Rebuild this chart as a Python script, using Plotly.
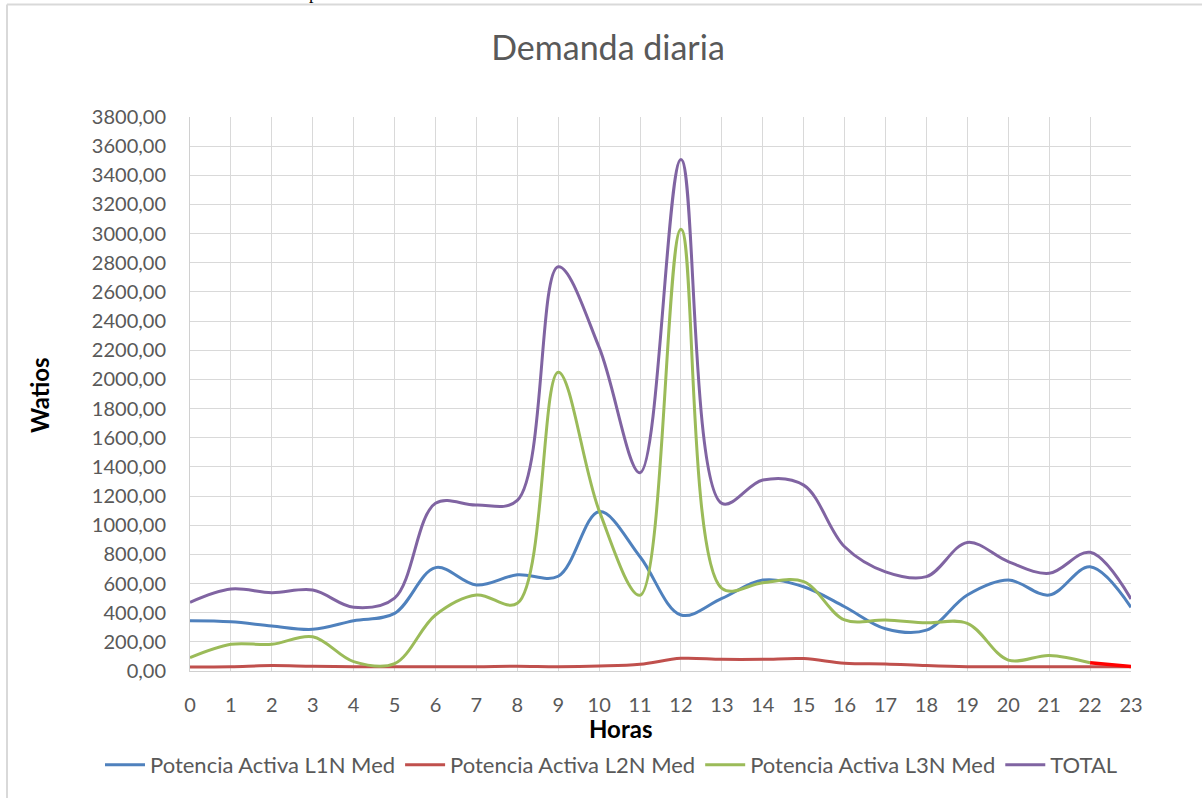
import plotly.graph_objects as go

hours = list(range(24))
l1n = [345, 338, 309, 286, 345, 395, 709, 590, 660, 650, 1093, 784, 384, 498, 624, 578, 441, 290, 280, 521, 624, 521, 715, 437]
l2n = [27, 30, 37, 32, 30, 30, 30, 30, 33, 30, 34, 46, 87, 80, 80, 85, 53, 48, 37, 30, 30, 30, 30, 30]
l3n = [91, 183, 183, 235, 64, 50, 384, 521, 464, 2050, 1100, 520, 3030, 567, 606, 613, 350, 350, 331, 327, 75, 107, 57, 30]
total = [471, 562, 537, 555, 437, 500, 1150, 1138, 1170, 2773, 2220, 1360, 3508, 1150, 1310, 1275, 852, 680, 647, 882, 750, 670, 814, 494]

names = ["Potencia Activa L1N Med", "Potencia Activa L2N Med", "Potencia Activa L3N Med", "TOTAL"]
colors = ["#4F81BD", "#C0504D", "#9BBB59", "#8064A2"]
ytick_vals = list(range(0, 3801, 200))

FONT = "Lato"
GREY = "#595959"

fig = go.Figure()
fig.add_trace(go.Scatter(x=hours, y=l1n, name=names[0], mode="lines",
                         line=dict(color=colors[0], width=3, shape="spline", smoothing=1)))
fig.add_trace(go.Scatter(x=hours, y=l2n, name=names[1], mode="lines",
                         line=dict(color=colors[1], width=3, shape="spline", smoothing=1)))
fig.add_trace(go.Scatter(x=hours[:23], y=l3n[:23], name=names[2], mode="lines",
                         line=dict(color=colors[2], width=3, shape="spline", smoothing=1)))
fig.add_trace(go.Scatter(x=hours[22:], y=l3n[22:], name=names[2], mode="lines", showlegend=False,
                         line=dict(color="#FF0000", width=3.5)))
fig.add_trace(go.Scatter(x=hours, y=total, name=names[3], mode="lines",
                         line=dict(color=colors[3], width=3, shape="spline", smoothing=1)))

# plot area geometry (pixels)
L, R, T, B = 190, 1131, 117, 671
W, H = R - L, B - T

def px(x):
    return (x - L) / W

def py(y):
    return (B - y) / H

fig.update_layout(
    width=1202, height=798, autosize=False,
    margin=dict(l=L, r=1202 - R, t=T, b=798 - B),
    paper_bgcolor="white", plot_bgcolor="white",
    separators=",.",
    font=dict(family=FONT, color=GREY, size=20),
    title=dict(text="Demanda diaria", x=px(608), xref="paper", xanchor="center",
               y=1 - 48 / 798, yanchor="middle", font=dict(size=34, color=GREY, family=FONT)),
    xaxis=dict(range=[0, 23], tickvals=hours, showgrid=True, gridcolor="#d9d9d9", gridwidth=1,
               showline=True, linecolor="#d0d0d0", linewidth=1, zeroline=False,
               ticks="", ticklabelstandoff=16, tickfont=dict(size=20, color=GREY)),
    yaxis=dict(range=[0, 3800], tickvals=ytick_vals, tickformat=".2f", showgrid=True,
               gridcolor="#d9d9d9", gridwidth=1, showline=True, linecolor="#d0d0d0", linewidth=1,
               zeroline=False, ticks="", ticklabelstandoff=19, tickfont=dict(size=20, color=GREY)),
    legend=dict(orientation="h", x=px(100), xanchor="left", y=py(765), yanchor="middle",
                font=dict(size=22, color=GREY, family=FONT), bgcolor="rgba(0,0,0,0)",
                traceorder="normal", itemwidth=40),
    annotations=[
        dict(text="<b>Horas</b>", x=px(620), y=py(728), xref="paper", yref="paper",
             xanchor="center", yanchor="middle",
             showarrow=False, font=dict(size=24, color="black", family=FONT)),
        dict(text="<b>Watios</b>", x=px(39), y=py(395), xref="paper", yref="paper",
             xanchor="center", yanchor="middle",
             showarrow=False, textangle=-90, font=dict(size=24, color="black", family=FONT)),
        dict(text="p", x=px(313), y=py(5), xref="paper", yref="paper", yanchor="bottom",
             xanchor="center", showarrow=False,
             font=dict(size=18, color="black", family="Liberation Serif")),
    ],
    shapes=[
        dict(type="line", xref="paper", yref="paper", x0=px(7), x1=px(1202), y0=py(4.5), y1=py(4.5),
             line=dict(color="#d9d9d9", width=2)),
        dict(type="line", xref="paper", yref="paper", x0=px(7), x1=px(7), y0=py(4.5), y1=py(798),
             line=dict(color="#d9d9d9", width=2)),
    ],
)

fig.write_html("out.html", config={"displayModeBar": False},
               post_script="document.body.style.margin='0';")
